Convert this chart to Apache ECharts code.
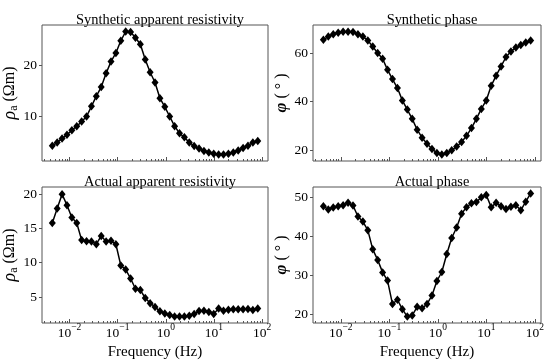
<!DOCTYPE html>
<html>
<head>
<meta charset="utf-8">
<script src="https://cdn.jsdelivr.net/npm/echarts@6/dist/echarts.min.js"></script>
<style>html,body{margin:0;padding:0;background:#fff}#c{width:550px;height:364px}</style>
</head>
<body>
<div id="c"></div>
<script>
// Frequencies (Hz) (log-spaced sounding frequencies)
const freqs = [0.004385, 0.005541, 0.007003, 0.008849, 0.01118, 0.01413, 0.01786, 0.02257, 0.02852, 0.03604,
  0.04555, 0.05756, 0.07273, 0.09191, 0.1162, 0.1468, 0.1855, 0.2344, 0.2962, 0.3743,
  0.4730, 0.5978, 0.7554, 0.9546, 1.206, 1.525, 1.927, 2.435, 3.077, 3.888,
  4.913, 6.209, 7.846, 9.915, 12.53, 15.83, 20.01, 25.29, 31.95, 40.38,
  51.03, 64.48, 81.49];

const synRho = [4.15, 4.8, 5.6, 6.3, 7.2, 8.0, 8.9, 9.9, 11.9, 13.9,
  15.7, 18.4, 20.7, 22.4, 24.8, 26.6, 26.5, 25.4, 24.1, 21.1,
  18.6, 16.6, 13.5, 11.8, 9.9, 8.0, 6.6, 5.8, 4.8, 4.1,
  3.6, 3.1, 2.8, 2.6, 2.45, 2.45, 2.6, 2.8, 3.2, 3.7,
  4.15, 4.8, 5.1];

const synPhase = [65.5, 66.9, 67.8, 68.4, 68.8, 68.8, 68.7, 67.8, 66.9, 65.2,
  62.7, 60.0, 57.7, 53.1, 49.3, 45.6, 40.5, 36.7, 32.9, 28.4,
  25.1, 22.6, 20.5, 18.8, 18.2, 18.8, 19.9, 21.5, 23.3, 25.9,
  29.1, 32.9, 37.0, 40.5, 46.5, 50.7, 54.5, 58.4, 60.7, 62.3,
  63.4, 64.4, 65.2];

const actRho = [15.8, 17.9, 20.0, 18.4, 16.6, 15.8, 13.3, 13.15, 13.1, 12.7,
  13.9, 13.1, 13.2, 12.7, 9.6, 9.0, 7.7, 6.2, 6.0, 4.85,
  4.1, 3.55, 2.9, 2.6, 2.35, 2.15, 2.15, 2.15, 2.25, 2.5,
  2.95, 3.0, 2.8, 2.5, 3.3, 3.0, 3.15, 3.2, 3.2, 3.2,
  3.25, 3.1, 3.3];

const actPhase = [47.6, 46.8, 47.3, 47.6, 47.9, 48.5, 47.8, 45.0, 43.7, 41.5,
  36.6, 33.9, 30.7, 28.6, 22.6, 23.7, 21.3, 19.4, 19.7, 21.9,
  21.5, 22.6, 24.8, 28.5, 30.8, 35.4, 39.5, 42.2, 45.7, 47.4,
  48.4, 48.7, 49.9, 50.5, 47.4, 48.5, 47.6, 46.9, 47.5, 47.9,
  46.6, 48.8, 50.9];

const titles = ['Synthetic apparent resistivity', 'Synthetic phase', 'Actual apparent resistivity', 'Actual phase'];
const majorExp = [-2, -1, 0, 1, 2];
const yTicks = [[10, 20], [20, 40, 60], [5, 10, 15, 20], [20, 30, 40, 50]];
const yRanges = [[1.15, 27.9], [15.5, 71.6], [1.2, 21.05], [17.75, 52.55]];
const xRange = [-2.572, 2.124];

const FONT = 'Liberation Serif';
const minorExp = [];
for (let n = -3; n <= 2; n++) for (let k = 2; k <= 9; k++) {
  const v = n + Math.log10(k);
  if (v > xRange[0] && v < xRange[1]) minorExp.push(v);
}

const grids = [
  {left: 42, top: 25, width: 226, height: 136},
  {left: 313, top: 25, width: 228, height: 136},
  {left: 42, top: 187, width: 226, height: 136},
  {left: 313, top: 187, width: 228, height: 136}
];
const seriesData = [synRho, synPhase, actRho, actPhase];

const xAxes = [], yAxes = [], series = [], titleArr = [];
grids.forEach((g, i) => {
  g.show = true; g.borderColor = '#555'; g.borderWidth = 1; g.backgroundColor = 'transparent';
  const bottomRow = i >= 2;
  xAxes.push({
    type: 'value', gridIndex: i, min: xRange[0], max: xRange[1], position: 'bottom',
    axisLine: {show: false, onZero: false}, splitLine: {show: false},
    axisTick: {show: true, inside: true, length: 4, customValues: majorExp, lineStyle: {color: '#555', width: 1}},
    axisLabel: {
      show: bottomRow, customValues: majorExp, margin: 3,
      formatter: v => '{b|10}{s|' + (v < 0 ? '\u2212' + (-v) : v) + '}',
      rich: {
        b: {fontFamily: FONT, fontSize: 13.5, color: '#000', lineHeight: 14},
        s: {fontFamily: FONT, fontSize: 9.5, color: '#000', lineHeight: 9, padding: [0, 0, 11, 0]}
      }
    },
    name: bottomRow ? 'Frequency (Hz)' : '', nameLocation: 'middle', nameGap: 20,
    nameTextStyle: {fontFamily: FONT, fontSize: 15, color: '#000'}
  });
  xAxes.push({
    type: 'value', gridIndex: i, min: xRange[0], max: xRange[1], position: 'bottom',
    axisLine: {show: false, onZero: false}, splitLine: {show: false},
    axisTick: {show: true, inside: true, length: 2, customValues: minorExp, lineStyle: {color: '#555', width: 1}},
    axisLabel: {show: false}
  });
  const isRho = (i % 2 === 0);
  yAxes.push({
    type: 'value', gridIndex: i, min: yRanges[i][0], max: yRanges[i][1], position: 'left',
    axisLine: {show: false, onZero: false}, splitLine: {show: false},
    axisTick: {show: true, inside: false, length: 3, customValues: yTicks[i], lineStyle: {color: '#555'}},
    axisLabel: {customValues: yTicks[i], fontFamily: FONT, fontSize: 13.5, color: '#000', margin: 5},
    name: isRho ? '{r|\u03c1}{a|a}{t| (\u03a9m)}' : '{p|\u03c6}{t| ( \u00b0 )}',
    nameLocation: 'middle', nameGap: isRho ? 15 : 17,
    nameTextStyle: {
      fontFamily: FONT, fontSize: 16, color: '#000',
      rich: {
        r: {fontFamily: FONT, fontSize: 18, fontStyle: 'italic', color: '#000'},
        a: {fontFamily: FONT, fontSize: 12, color: '#000', padding: [7, 0, 0, 0]},
        p: {fontFamily: FONT, fontSize: 17, fontStyle: 'italic', fontWeight: 'bold', color: '#000'},
        t: {fontFamily: FONT, fontSize: 16, color: '#000'}
      }
    }
  });
  series.push({
    type: 'line', xAxisIndex: 2 * i, yAxisIndex: i,
    data: freqs.map((f, k) => [Math.log10(f), seriesData[i][k]]),
    symbol: 'diamond', symbolSize: [7, 8.5], showSymbol: true,
    lineStyle: {color: '#000', width: 1.5}, itemStyle: {color: '#000'},
    animation: false, silent: true
  });
  titleArr.push({
    text: titles[i], left: g.left + g.width / 2, top: bottomRow ? 170 : 8, textAlign: 'center',
    textStyle: {fontFamily: FONT, fontSize: 14.4, fontWeight: 'normal', color: '#000'}
  });
});

const chart = echarts.init(document.getElementById('c'), null, {renderer: 'canvas'});
chart.setOption({
  animation: false,
  backgroundColor: '#fff',
  title: titleArr,
  grid: grids,
  xAxis: xAxes,
  yAxis: yAxes,
  series: series
});
</script>
</body>
</html>
